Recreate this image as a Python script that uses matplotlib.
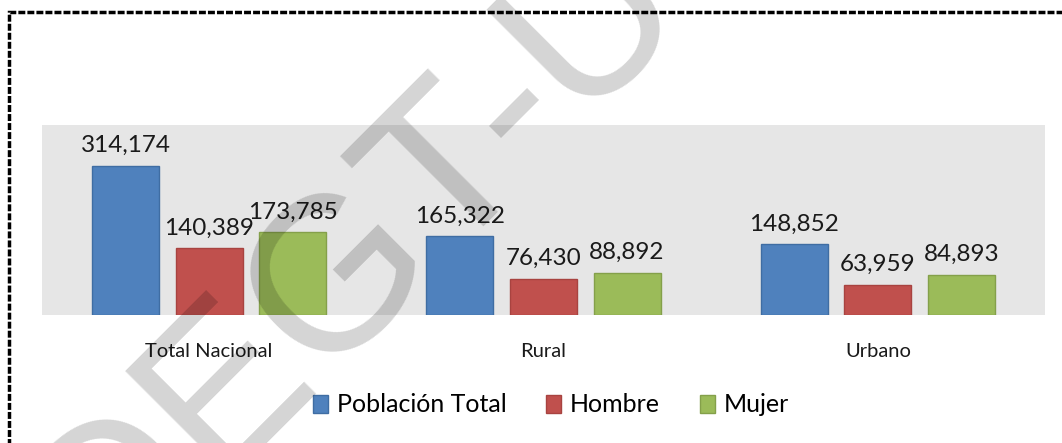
import matplotlib.pyplot as plt
from matplotlib.patches import Rectangle
import numpy as np

categorias = ["Total Nacional", "Rural", "Urbano"]
series = ["Población Total", "Hombre", "Mujer"]
poblacion_total = [314174, 165322, 148852]
hombre = [140389, 76430, 63959]
mujer = [173785, 88892, 84893]

colores = ["#4F81BD", "#C0504D", "#9BBB59"]
bordes = ["#3F6DA3", "#A84340", "#84A04A"]

plt.rcParams["font.family"] = ["Lato", "DejaVu Sans"]

fig = plt.figure(figsize=(10.62, 4.43), dpi=100)
ax = fig.add_axes([42 / 1062, 1 - 315 / 443, 1003 / 1062, 190 / 443])
ax.set_facecolor("#E6E6E6")

x = np.arange(len(categorias))
ancho = 0.2
paso = 0.25
for i, (nombre, valores) in enumerate(zip(series, [poblacion_total, hombre, mujer])):
    pos = x + (i - 1) * paso
    barras = ax.bar(pos, valores, ancho, color=colores[i], edgecolor=bordes[i],
                    linewidth=1, label=nombre)
    for b, v in zip(barras, valores):
        ax.annotate(f"{v:,}", (b.get_x() + b.get_width() / 2, v),
                    xytext=(0, 7), textcoords="offset points",
                    ha="center", va="bottom", fontsize=17.5, color="#1a1a1a")

ax.set_xlim(-0.5, 2.5)
ax.set_ylim(0, 400000)
ax.set_xticks(x)
ax.set_xticklabels(categorias, fontsize=14.5, color="#1a1a1a")
ax.tick_params(axis="x", length=0, pad=20)
ax.set_yticks([])
for s in ax.spines.values():
    s.set_visible(False)

fig.legend(loc="center", bbox_to_anchor=(551 / 1062, 1 - 405 / 443), ncol=3,
           frameon=False, fontsize=18, handlelength=0.6, handleheight=0.7,
           handletextpad=0.35, columnspacing=1.6)

# borde punteado del recuadro
fig.add_artist(Rectangle((9 / 1062, -0.2), 2, 1.2 - 12 / 443, transform=fig.transFigure,
                         fill=False, edgecolor="black", linewidth=2.5,
                         linestyle=(0, (2, 0.6))))

# marca de agua
fig.text(103 / 1062, 1 - 590 / 443, "DEGT-U", fontsize=158, family="Liberation Sans",
         rotation=45, rotation_mode="anchor", ha="left", va="baseline",
         color="black", alpha=0.17, zorder=10)

fig.savefig("out.png", dpi=100)
